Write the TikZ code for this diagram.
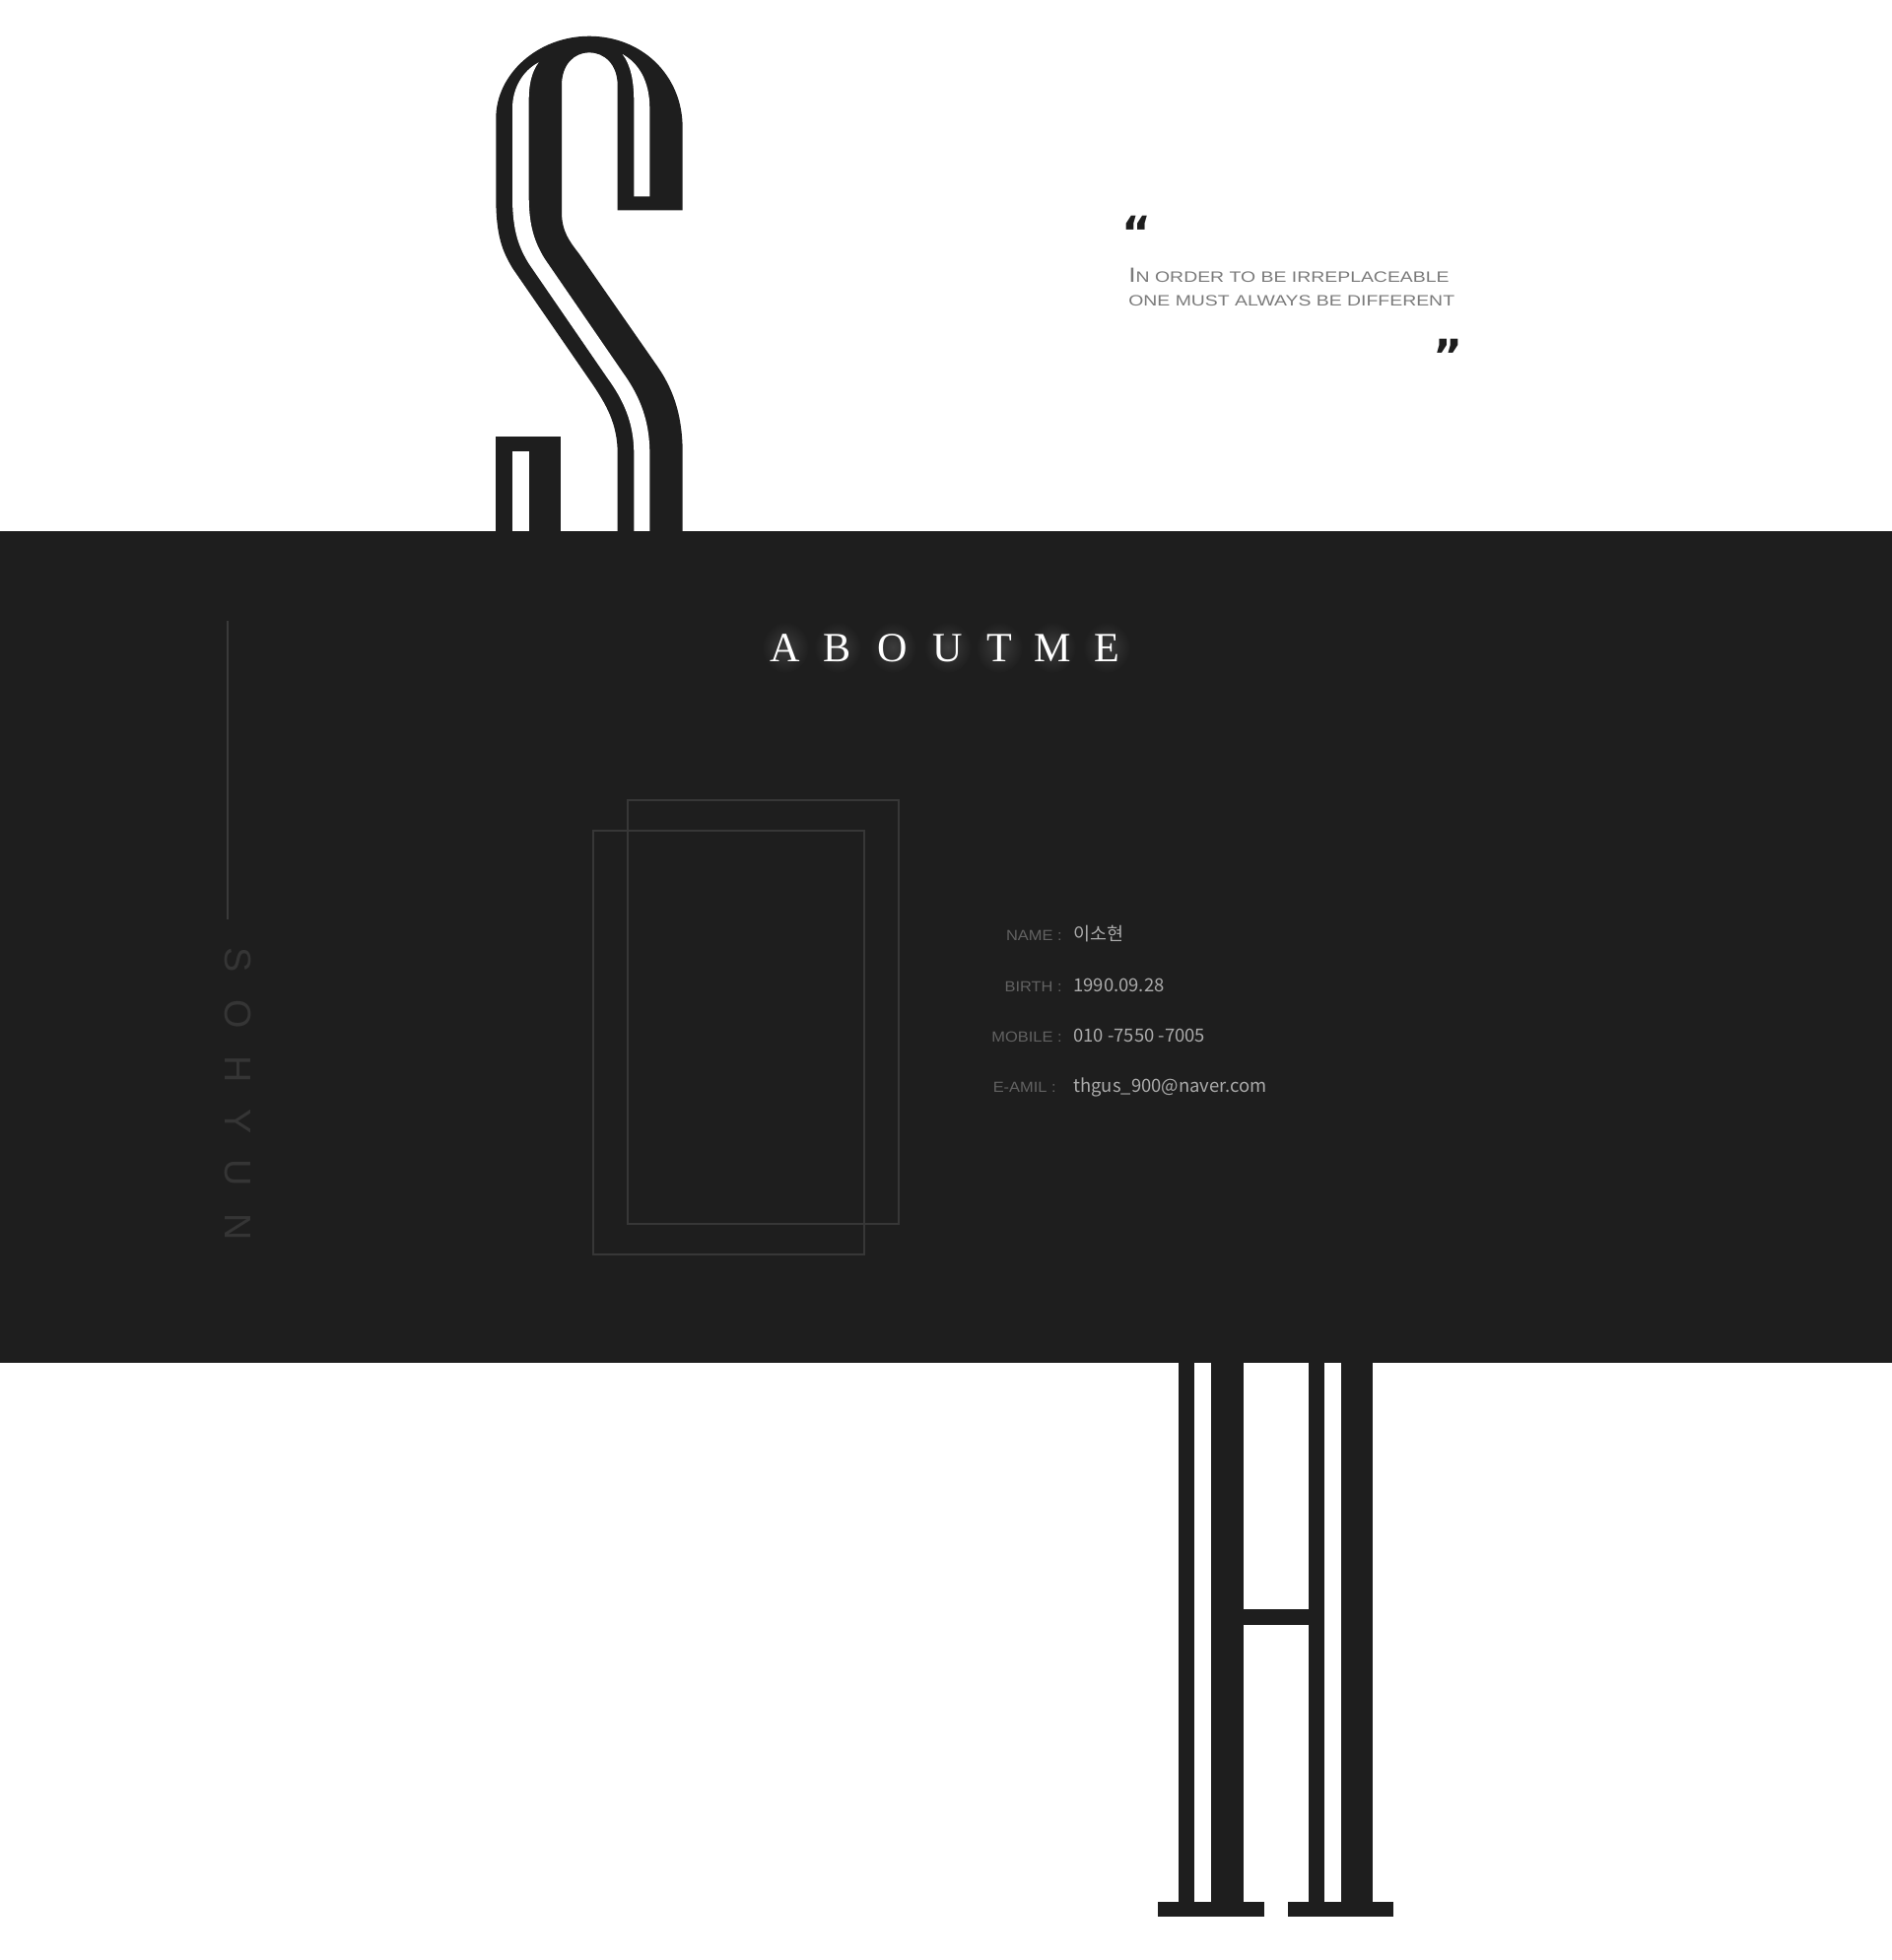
\documentclass[tikz,border=0pt]{standalone}
\usepackage{fontspec}
\setmainfont{Liberation Serif}
\newfontfamily\capsfont[FakeStretch=1.27]{Liberation Sans}
\newfontfamily\keyfont[FakeStretch=1.1]{Liberation Sans}
\newfontfamily\sidefont{Liberation Sans}
\newfontfamily\markfont{DejaVu Sans}
\newfontfamily\krfont{Noto Sans CJK KR}
\usepackage{tikz}

\definecolor{bandgray}{HTML}{1E1E1E}
\definecolor{glowgray}{HTML}{3C3C3C}
\definecolor{framegray}{HTML}{373737}
\definecolor{rulegray}{HTML}{3A3A3A}
\definecolor{sidegray}{HTML}{353535}
\definecolor{quotegray}{HTML}{7A7A7A}
\definecolor{keygray}{HTML}{626262}
\definecolor{valgray}{HTML}{ABABAB}

\tikzset{
  ink/.style={fill=bandgray},
  paper/.style={fill=white},
  frame/.style={draw=framegray, line width=1.1pt},
  glow/.style={inner color=glowgray, outer color=bandgray},
  title/.style={font=\fontsize{24}{24}\selectfont, text=white, inner sep=0pt, anchor=base},
  sidename/.style={font=\sidefont\fontsize{21.5}{22}\selectfont, text=sidegray, inner sep=0pt, rotate=-90},
  quotetext/.style={font=\capsfont\fontsize{8.7}{10}\selectfont, text=quotegray, inner sep=0pt, anchor=base west},
  quotemark/.style={font=\markfont\bfseries\fontsize{26}{26}\selectfont, text=bandgray, inner sep=0pt},
  infolabel/.style={font=\keyfont\fontsize{8.5}{10}\selectfont, text=keygray, inner sep=0pt, anchor=base east},
  infovalue/.style={font=\krfont\fontsize{10.5}{12}\selectfont, text=valgray, inner sep=0pt, anchor=base west}
}

\begin{document}
\begin{tikzpicture}[x=0.02cm,y=-0.02cm]
		\fill[white] (0,0) rectangle (1920,1989);
		\useasboundingbox (0,0) rectangle (1920,1989);
		% the big S above the band
		\fill[ink] (692.7,213.3) -- (692.7,130)
			.. controls (692.7,75) and (650,36.7) .. (598,36.7)
			.. controls (546,36.7) and (503.3,75) .. (503.3,120)
			-- (503.3,200)
			.. controls (503.3,240) and (510,255) .. (520,272)
			-- (600,388)
			.. controls (615,410) and (626.7,430) .. (626.7,460)
			-- (626.7,545) -- (692.7,545) -- (692.7,460)
			.. controls (692.7,425) and (685,398) .. (668,373)
			-- (588,258)
			.. controls (578,245) and (570,235) .. (570,215)
			-- (570,86.7)
			.. controls (570,65) and (583,53.3) .. (598,53.3)
			.. controls (613,53.3) and (626.7,65) .. (626.7,86.7)
			-- (626.7,213.3) -- cycle;
		\fill[paper] (546.7,63.3)
			.. controls (530,72) and (520,90) .. (520,110) -- (520,200)
			.. controls (520,235) and (527,252) .. (537,268) -- (616,383)
			.. controls (632,405) and (643.3,428) .. (643.3,460)
			-- (643.3,545) -- (659.3,545) -- (659.3,460)
			.. controls (659.3,428) and (650,403) .. (632,378) -- (553,263)
			.. controls (543,247) and (536.7,230) .. (536.7,200) -- (536.7,100)
			.. controls (536.7,85) and (540,72) .. (546.7,63.3) -- cycle;
		\fill[paper] (631.7,55)
			.. controls (640,66) and (643.3,82) .. (643.3,103)
			-- (643.3,199.3) -- (659.3,199.3) -- (659.3,110)
			.. controls (659.3,82) and (648,64) .. (631.7,55) -- cycle;
		\fill[ink] (503.3,443.3) rectangle (569.3,545);
		\fill[paper] (520,458.3) rectangle (536.7,545);
		% the big H below the band
		\foreach \a/\b in {1195.7/1212.3,1229/1261.7,1327.7/1344.3,1360.7/1393.3} % edit here for the stems
		\fill[ink] (\a,1375) rectangle (\b,1930);
		\fill[ink] (1261.7,1633.3) rectangle (1327.7,1649);
		\fill[ink] (1175.3,1930) rectangle (1282.7,1945);
		\fill[ink] (1306.7,1930) rectangle (1414.3,1945);
		% the band
		\fill[ink] (0,539) rectangle (1920,1383);
		% quote
		\node[quotemark] (qopen) at (1154,236) {“};
		\node[quotetext] (qline1) at (1145,286) {{\fontsize{11.9}{12}\selectfont I}N ORDER TO BE IRREPLACEABLE};
		\node[quotetext] (qline2) at (1145,310) {ONE MUST ALWAYS BE DIFFERENT};
		\node[quotemark] (qclose) at (1469,361) {”};
		% title with soft glow
		\foreach \l/\x in {A/797,B/850,O/906,U/962,T/1014,M/1068,E/1123}{
			\shade[glow] (\x,657) ellipse (24 and 26);
			\node[title] (t\l) at (\x,671) {\l};
		}
		% side name
		\coordinate (ruletop) at (231,630);
		\coordinate (rulebot) at (231,933);
		\draw[rulegray, line width=0.9pt] (ruletop) -- (rulebot);
		\foreach \l/\y in {S/974,O/1029,H/1085,Y/1138,U/1190,N/1245} % edit here for the letters
		\node[sidename] (side\l) at (241.5,\y) {\l};
		% photo frames
		\draw[frame] (637,812) rectangle (912,1242);
		\draw[frame] (602,843) rectangle (877,1273);
		% profile rows
		\foreach \k/\v/\y/\c [count=\r] in {NAME/이소현/954/1078,BIRTH/1990.09.28/1006/1078,MOBILE/010 -7550 -7005/1057/1078,E-AMIL/thgus\_900@naver.com/1108/1072}{
			\node[infolabel] (key\r) at (\c,\y) {\k\ :};
			\node[infovalue] (val\r) at (1089,\y) {\v};
		}
		\end{tikzpicture}
\end{document}
